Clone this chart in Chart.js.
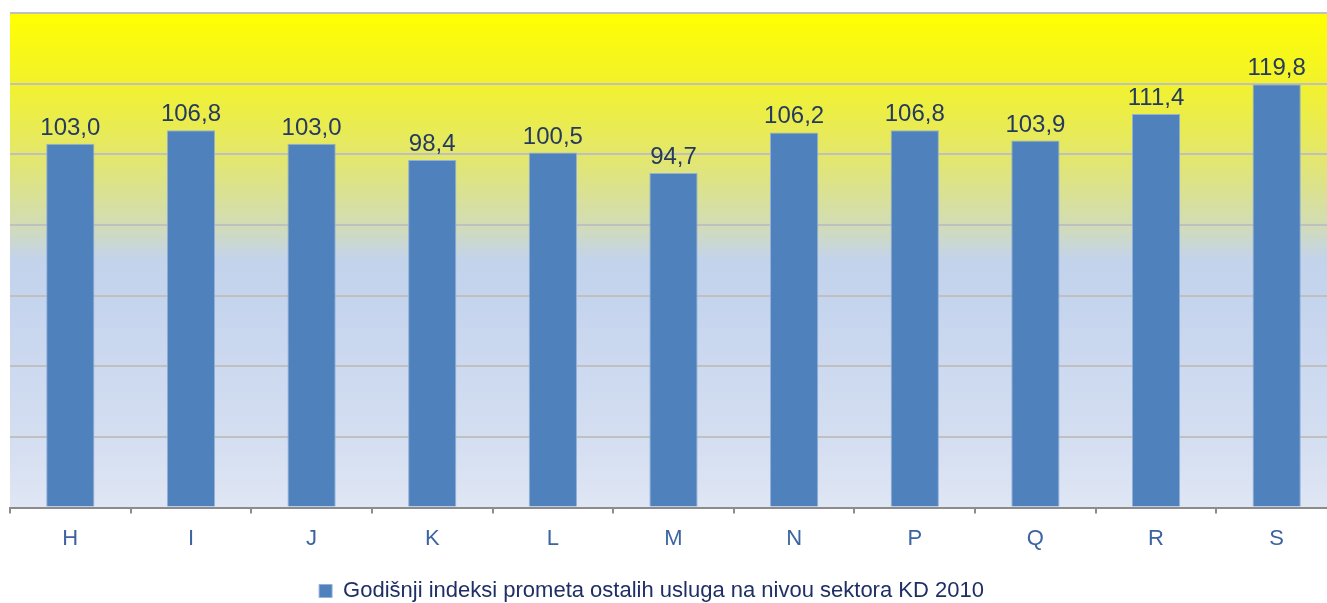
<!DOCTYPE html>
<html>
<head>
<meta charset="utf-8">
<script src="https://cdn.jsdelivr.net/npm/chart.js@4/dist/chart.umd.min.js"></script>
<style>
  html, body { margin: 0; padding: 0; background: #fff; overflow: hidden; }
  #wrap { width: 1337px; height: 603px; }
</style>
</head>
<body>
<div id="wrap"><canvas id="chart" width="1337" height="603"></canvas></div>
<script>
const sectors = ['H', 'I', 'J', 'K', 'L', 'M', 'N', 'P', 'Q', 'R', 'S'];
const indices = [103.0, 106.8, 103.0, 98.4, 100.5, 94.7, 106.2, 106.8, 103.9, 111.4, 119.8];
const seriesLabel = 'Godišnji indeksi prometa ostalih usluga na nivou sektora KD 2010';

const FONT = '"Liberation Sans", Arial, sans-serif';
const fmt = (v) => v.toFixed(1).replace('.', ',');

// gradient behind the plot area
const plotBackground = {
  id: 'plotBackground',
  beforeDraw(chart) {
    const { ctx, chartArea: a } = chart;
    const g = ctx.createLinearGradient(0, a.top, 0, a.bottom);
    g.addColorStop(0, '#ffff00');
    g.addColorStop(0.14, '#f2f22c');
    g.addColorStop(0.29, '#e3e76c');
    g.addColorStop(0.42, '#d3ddb0');
    g.addColorStop(0.5, '#c3d3ec');
    g.addColorStop(0.6, '#c6d5ee');
    g.addColorStop(0.86, '#d4def1');
    g.addColorStop(1, '#dfe6f4');
    ctx.save();
    ctx.fillStyle = g;
    ctx.fillRect(a.left, a.top, a.right - a.left, a.bottom - a.top);
    ctx.restore();
  }
};

// values above bars
const barValues = {
  id: 'barValues',
  afterDatasetsDraw(chart) {
    const { ctx } = chart;
    const meta = chart.getDatasetMeta(0);
    ctx.save();
    ctx.font = '24px ' + FONT;
    ctx.fillStyle = '#253a5e';
    ctx.textAlign = 'center';
    ctx.textBaseline = 'alphabetic';
    meta.data.forEach((bar, i) => {
      ctx.fillText(fmt(indices[i]), bar.x, bar.y - 9);
    });
    ctx.restore();
  }
};

// legend sits a little left of centre in the original
const legendShift = {
  id: 'legendShift',
  afterLayout(chart) {
    const lg = chart.legend;
    if (!lg) return;
    lg.left -= 22; lg.right -= 22;
    lg.top += 4; lg.bottom += 4;
  }
};

new Chart(document.getElementById('chart'), {
  type: 'bar',
  data: {
    labels: sectors,
    datasets: [{
      label: seriesLabel,
      data: indices,
      backgroundColor: '#4f81bd',
      borderColor: '#93b1d9',
      borderWidth: 1,
      categoryPercentage: 1,
      barPercentage: 0.4
    }]
  },
  options: {
    responsive: false,
    animation: false,
    layout: { padding: { left: 10, top: 13, right: 0, bottom: -5 } },
    scales: {
      y: {
        min: 0,
        max: 140,
        ticks: { display: false, stepSize: 20 },
        grid: { color: '#c0c0c0', lineWidth: 2, drawTicks: false },
        border: { display: false }
      },
      x: {
        grid: { drawOnChartArea: false, offset: true, color: '#8c8c8c', tickLength: 6, lineWidth: 2 },
        border: { color: '#8c8c8c', width: 2 },
        ticks: {
          color: '#3c64a0',
          padding: 12,
          font: { size: 22, family: FONT }
        }
      }
    },
    plugins: {
      tooltip: { enabled: false },
      legend: {
        position: 'bottom',
        labels: {
          color: '#1f2f66',
          boxWidth: 13,
          boxHeight: 13,
          padding: 12,
          font: { size: 22, family: FONT }
        }
      }
    }
  },
  plugins: [plotBackground, barValues, legendShift]
});
</script>
</body>
</html>
